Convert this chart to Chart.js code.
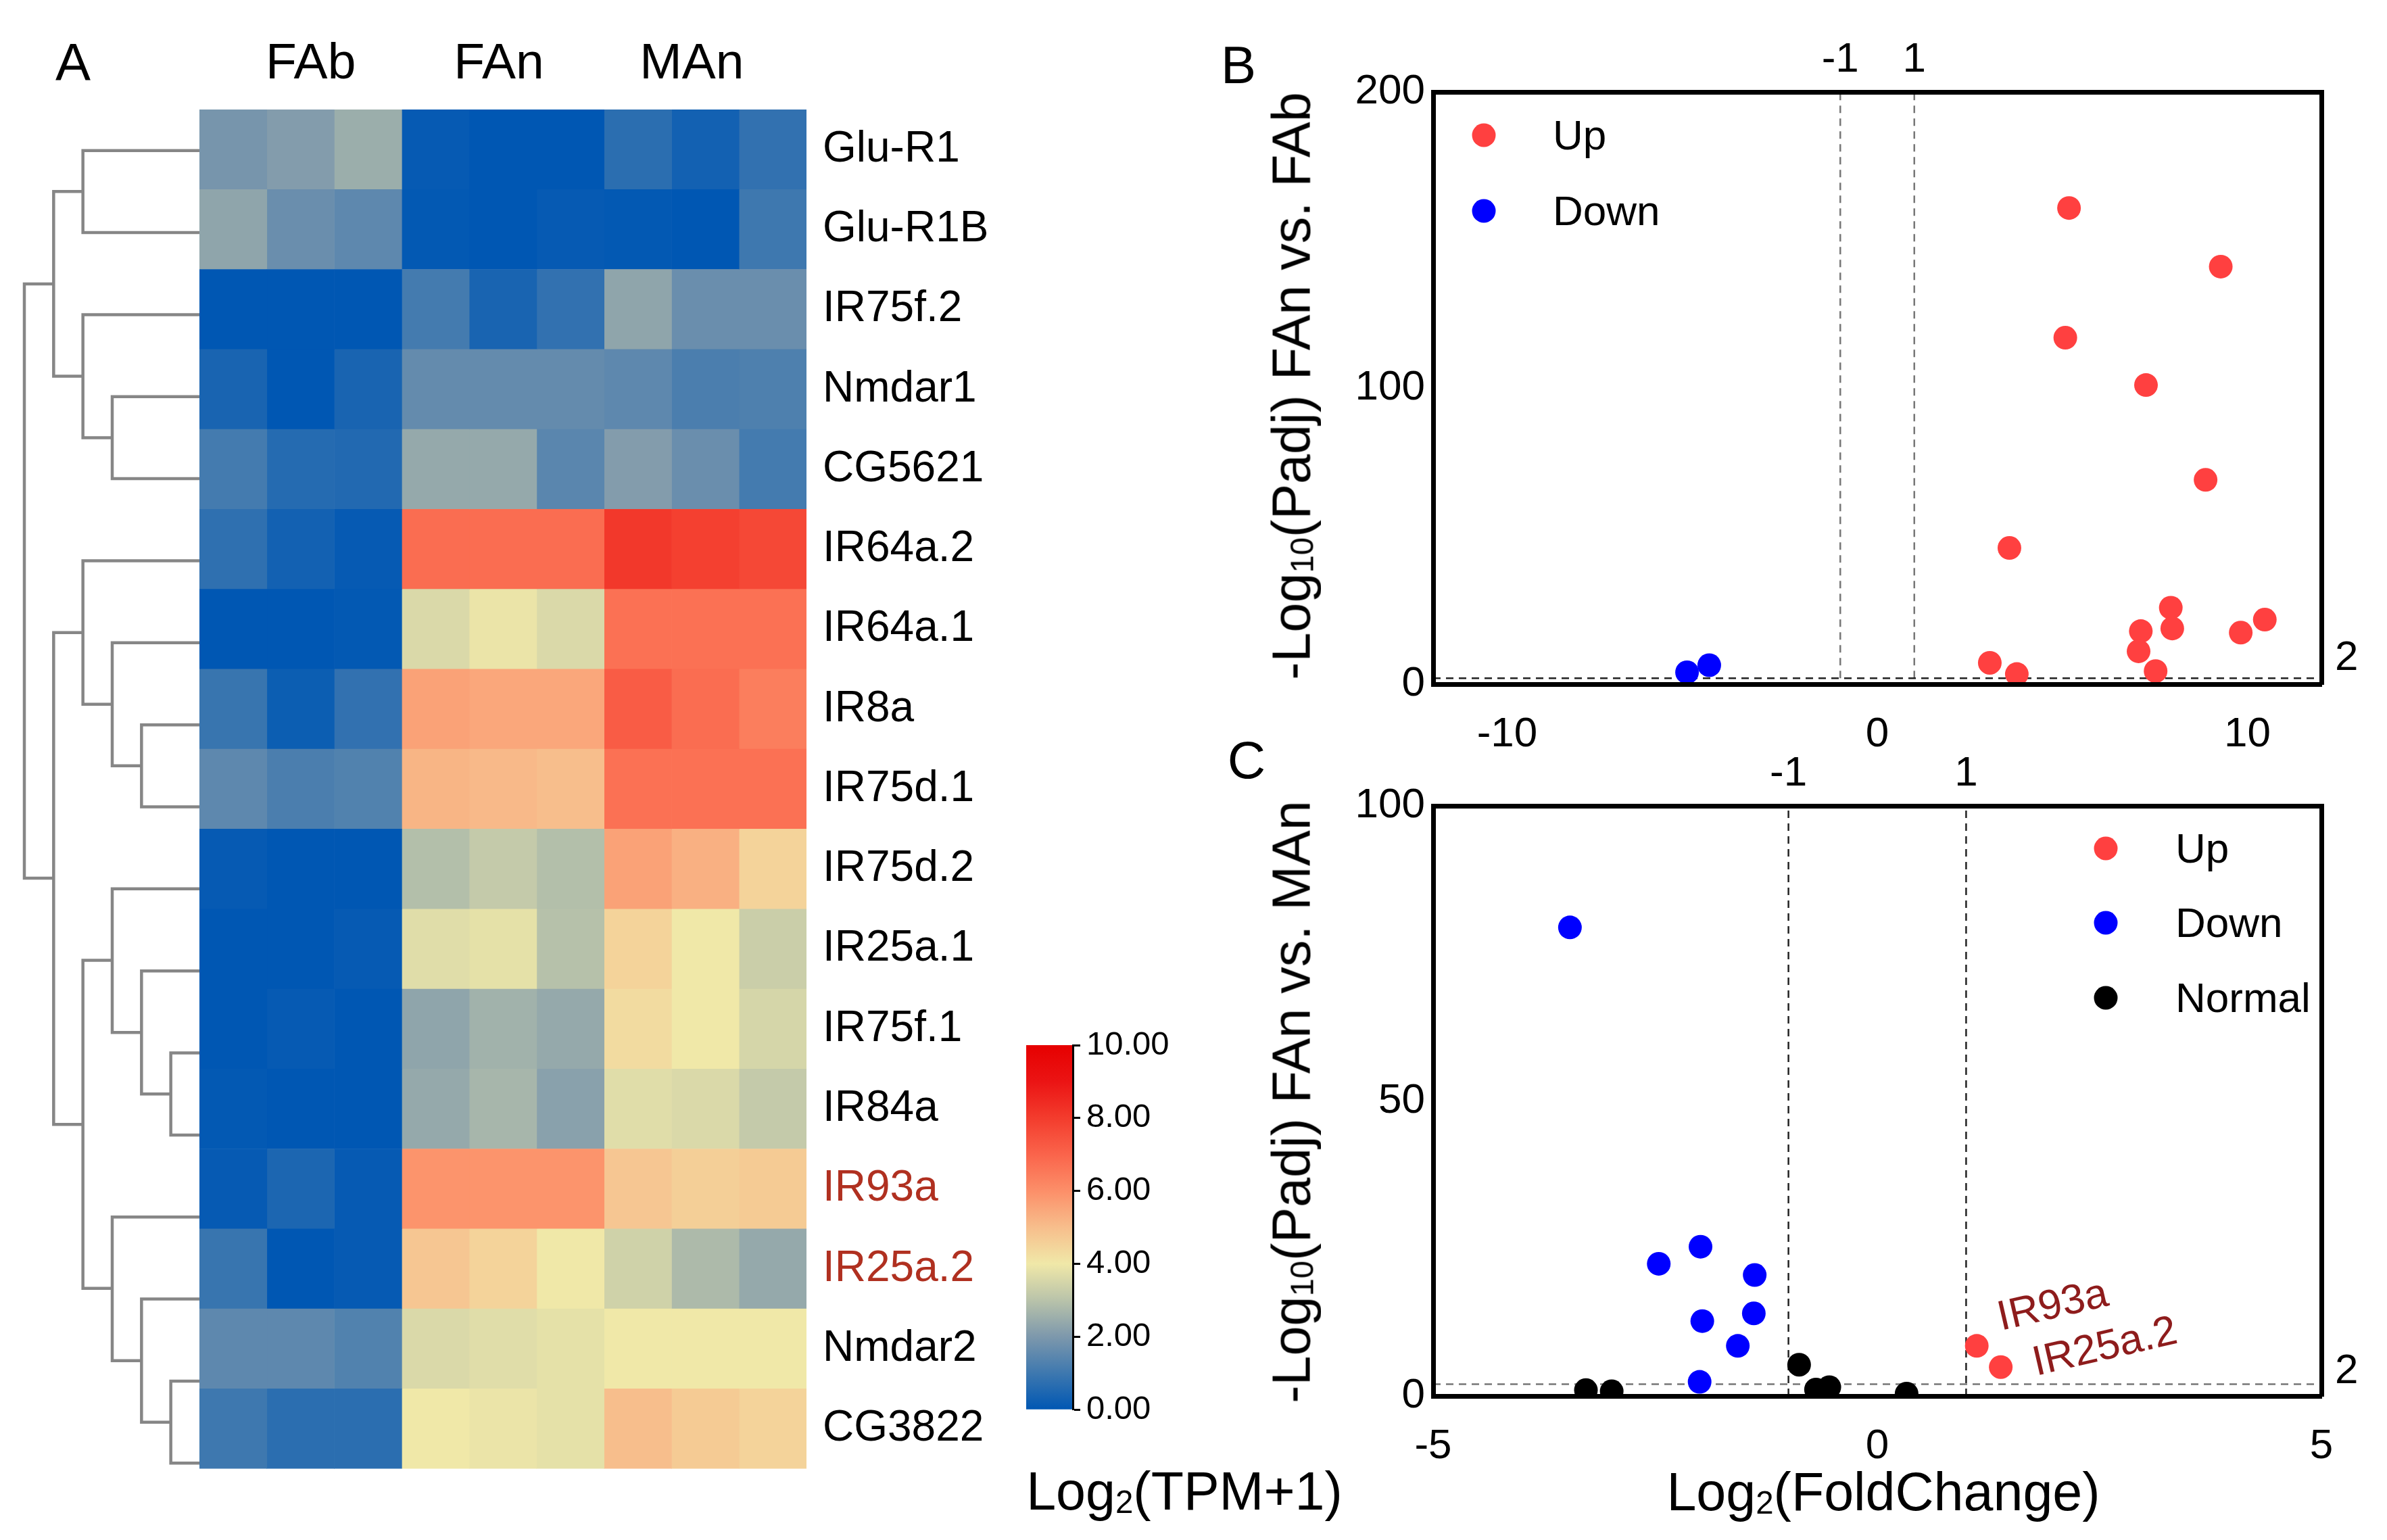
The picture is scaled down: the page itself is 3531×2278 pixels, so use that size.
<!DOCTYPE html>
<html>
<head>
<meta charset="utf-8">
<title>Chart</title>
<script src="https://cdn.jsdelivr.net/npm/chart.js@4"></script>
<style>
  html, body { margin: 0; background: #fff; }
  #page { position: relative; width: 3531px; height: 2278px; overflow: hidden; font-family: "Liberation Sans", Arial, sans-serif; color: #000; }
  canvas { position: absolute; }
  .t { position: absolute; white-space: nowrap; line-height: 1; transform: translate(-50%, -50%); }
  .rot { transform: translate(-50%, -50%) rotate(-90deg); }
  .tilt { transform: translate(-50%, -50%) rotate(-13deg); color: #8e1c1c; font-size: 62px; }
  .leg { transform: translate(0, -50%); font-size: 62px; }
  .dot { position: absolute; width: 35px; height: 35px; border-radius: 50%; transform: translate(-50%, -50%); }
  sub { font-size: .6em; vertical-align: baseline; position: relative; top: .1em; line-height: 0; }
</style>
</head>
<body>
<div id="page">
  <canvas id="dendro" width="312" height="2063" style="left:20px;top:162px"></canvas>
  <canvas id="heat" width="1218" height="2175" style="left:295px;top:60px"></canvas>
  <canvas id="cbar" width="320" height="640" style="left:1518px;top:1500px"></canvas>
  <canvas id="volcB" width="1631" height="1132" style="left:1900px;top:0px"></canvas>
  <canvas id="volcC" width="1631" height="1132" style="left:1900px;top:1056px"></canvas>

  <div class="t" style="left:108px;top:92px;font-size:78px">A</div>
  <div class="t" style="left:1832px;top:96px;font-size:78px">B</div>
  <div class="t" style="left:1844px;top:1124px;font-size:78px">C</div>

  <div class="t rot" style="left:1910px;top:571px;font-size:79px">-Log<sub>10</sub>(Padj) FAn vs. FAb</div>
  <div class="t rot" style="left:1910px;top:1630px;font-size:79px">-Log<sub>10</sub>(Padj) FAn vs. MAn</div>
  <div class="t" style="left:2786px;top:2206px;font-size:79px">Log<sub>2</sub>(FoldChange)</div>
  <div class="t" style="left:1752px;top:2205px;font-size:79px">Log<sub>2</sub>(TPM+1)</div>

  <div class="dot" style="left:2195px;top:200px;background:#ff4040"></div>
  <div class="t leg" style="left:2297px;top:200px">Up</div>
  <div class="dot" style="left:2195px;top:312px;background:#0000ff"></div>
  <div class="t leg" style="left:2297px;top:312px">Down</div>

  <div class="dot" style="left:3115px;top:1255px;background:#ff4040"></div>
  <div class="t leg" style="left:3218px;top:1255px">Up</div>
  <div class="dot" style="left:3115px;top:1365px;background:#0000ff"></div>
  <div class="t leg" style="left:3218px;top:1365px">Down</div>
  <div class="dot" style="left:3115px;top:1476px;background:#000"></div>
  <div class="t leg" style="left:3218px;top:1476px">Normal</div>

  <div class="t tilt" style="left:3036px;top:1929px">IR93a</div>
  <div class="t tilt" style="left:3113px;top:1990px">IR25a.2</div>
</div>

<script>
// heatmap
const genes = ['Glu-R1', 'Glu-R1B', 'IR75f.2', 'Nmdar1', 'CG5621', 'IR64a.2', 'IR64a.1', 'IR8a', 'IR75d.1',
  'IR75d.2', 'IR25a.1', 'IR75f.1', 'IR84a', 'IR93a', 'IR25a.2', 'Nmdar2', 'CG3822'];
const redGenes = ['IR93a', 'IR25a.2'];
const groups = ['FAb', 'FAn', 'MAn'];
const groupTicks = [1.65, 4.44, 7.30];
const heatValues = [
  [1.9, 2.1, 2.5, 0.1, 0, 0, 0.7, 0.3, 0.8],
  [2.3, 1.7, 1.5, 0.05, 0, 0.1, 0.05, 0, 1.0],
  [0, 0, 0, 1.1, 0.4, 0.8, 2.3, 1.7, 1.7],
  [0.4, 0, 0.4, 1.6, 1.6, 1.6, 1.5, 1.2, 1.25],
  [1.1, 0.6, 0.55, 2.4, 2.4, 1.45, 2.1, 1.7, 1.1],
  [0.75, 0.3, 0.1, 6.8, 6.8, 6.8, 8.1, 7.9, 7.7],
  [0, 0, 0.05, 3.6, 3.9, 3.6, 6.7, 6.7, 6.7],
  [0.9, 0.2, 0.8, 5.6, 5.5, 5.5, 7.2, 6.8, 6.4],
  [1.5, 1.2, 1.3, 5.2, 5.1, 5.0, 6.7, 6.7, 6.7],
  [0.1, 0, 0, 2.9, 3.2, 2.9, 5.6, 5.3, 4.5],
  [0, 0, 0.1, 3.7, 3.8, 2.95, 4.5, 4.0, 3.3],
  [0, 0.1, 0, 2.3, 2.6, 2.4, 4.3, 4.0, 3.5],
  [0.05, 0, 0, 2.4, 2.7, 2.2, 3.7, 3.6, 3.2],
  [0.1, 0.45, 0.1, 5.9, 5.9, 5.9, 4.8, 4.6, 4.7],
  [0.9, 0, 0.1, 4.8, 4.5, 4.0, 3.4, 2.8, 2.4],
  [1.5, 1.5, 1.3, 3.6, 3.7, 3.8, 4.0, 4.0, 4.0],
  [1.0, 0.7, 0.7, 4.0, 3.9, 3.8, 5.0, 4.7, 4.5]
];

// colour bar
const cbarTicks = [0, 2, 4, 6, 8, 10];
const cmapColors = [[0, 87, 179], [62, 120, 175], [125, 152, 172], [185, 195, 170], [240, 232, 168],
  [247, 190, 140], [252, 143, 105], [250, 100, 75], [243, 60, 45], [235, 20, 20], [230, 0, 0]];

// dendrogram brackets: depth of child A, row of child A, depth of child B, row of child B, depth of the join
const dendroBrackets = [
  [6, 0, 6, 1, 2],
  [6, 3, 6, 4, 3],
  [6, 2, 3, 3.5, 2],
  [2, 0.5, 2, 2.75, 1],
  [6, 7, 6, 8, 4],
  [6, 6, 4, 7.5, 3],
  [6, 5, 3, 6.75, 2],
  [6, 11, 6, 12, 5],
  [6, 10, 5, 11.5, 4],
  [6, 9, 4, 10.75, 3],
  [6, 15, 6, 16, 5],
  [6, 14, 5, 15.5, 4],
  [6, 13, 4, 14.75, 3],
  [3, 9.87, 3, 13.87, 2],
  [2, 5.875, 2, 11.87, 1],
  [1, 1.625, 1, 8.87, 0]
];

// panel B
const bUpX = [5.18, 9.28, 5.08, 7.26, 8.87, 3.57, 7.93, 10.47, 9.82, 7.97, 7.12, 7.06, 3.04, 3.77, 7.52];
const bUpY = [160.8, 141, 117, 101, 69, 46, 25.8, 21.8, 17.4, 18.8, 17.9, 11.1, 7.2, 3.4, 4.4];
const bDownX = [-5.14, -4.54];
const bDownY = [4, 6.4];

// panel C
const cUpX = [1.12, 1.39];
const cUpY = [8.5, 4.9];
const cDownX = [-3.46, -1.99, -2.46, -1.38, -1.39, -1.97, -1.57, -2.0];
const cDownY = [79.4, 25.3, 22.4, 20.5, 14, 12.7, 8.5, 2.4];
const cNormalX = [-0.88, -3.28, -2.99, -0.69, -0.54, 0.33];
const cNormalY = [5.3, 1, 0.8, 1.1, 1.5, 0.4];

const FONT = '"Liberation Sans", Arial, sans-serif';
const RED = '#ff4040', BLUE = '#0000ff';
Chart.defaults.font.family = FONT;
Chart.defaults.color = '#000';
Chart.defaults.animation = false;
Chart.defaults.responsive = false;
Chart.defaults.devicePixelRatio = 1;
Chart.defaults.plugins.legend.display = false;
Chart.defaults.plugins.tooltip.enabled = false;

function cmap(v) {
  const i = Math.min(Math.floor(v), 9), f = v - i;
  const c = cmapColors[i].map((a, k) => Math.round(a + (cmapColors[i + 1][k] - a) * f));
  return `rgb(${c[0]},${c[1]},${c[2]})`;
}
const zip = (xs, ys) => xs.map((x, i) => ({ x: x, y: ys[i] }));

new Chart(document.getElementById('dendro'), {
  type: 'scatter',
  data: {
    datasets: dendroBrackets.map(b => ({
      data: [{ x: b[0], y: b[1] }, { x: b[4], y: b[1] }, { x: b[4], y: b[3] }, { x: b[2], y: b[3] }],
      showLine: true, pointRadius: 0, borderColor: '#868686', borderWidth: 4.5, clip: false
    }))
  },
  options: {
    layout: { padding: { left: 16, right: 36 } },
    scales: {
      x: { display: false, min: 0, max: 6 },
      y: { display: false, min: -0.5, max: 16.5, reverse: true }
    }
  }
});

new Chart(document.getElementById('heat'), {
  type: 'bar',
  data: {
    labels: genes,
    datasets: heatValues[0].map((_, c) => ({
      data: genes.map(() => 1),
      backgroundColor: genes.map((_, r) => cmap(heatValues[r][c])),
      barPercentage: 1, categoryPercentage: 1
    }))
  },
  options: {
    indexAxis: 'y',
    layout: { padding: { bottom: 10 } },
    scales: {
      x: {
        position: 'top', stacked: true, min: 0, max: 9,
        grid: { display: false, drawTicks: false }, border: { display: false },
        afterBuildTicks: s => { s.ticks = groupTicks.map(v => ({ value: v })); },
        afterFit: s => { s.height = 102; },
        ticks: {
          font: { size: 75 }, padding: 22, maxRotation: 0, autoSkip: false,
          callback: (v, i) => groups[i]
        }
      },
      y: {
        position: 'right', stacked: true,
        grid: { display: false, drawTicks: false }, border: { display: false },
        afterFit: s => { s.width = 320; },
        ticks: {
          font: { size: 64 }, padding: 24, autoSkip: false,
          color: c => redGenes.includes(genes[c.index]) ? '#b03020' : '#000'
        }
      }
    }
  }
});

new Chart(document.getElementById('cbar'), {
  type: 'bar',
  data: {
    labels: [''],
    datasets: [{
      data: [[0, 10]],
      barPercentage: 1, categoryPercentage: 1,
      backgroundColor: c => {
        const a = c.chart.chartArea;
        if (!a) return '#000';
        const g = c.chart.ctx.createLinearGradient(0, a.bottom, 0, a.top);
        cmapColors.forEach((col, i) => g.addColorStop(i / 10, `rgb(${col[0]},${col[1]},${col[2]})`));
        return g;
      }
    }]
  },
  options: {
    layout: { padding: { top: 46, bottom: 55 } },
    scales: {
      x: { display: false },
      y: {
        position: 'right', min: 0, max: 10,
        grid: { display: true, drawOnChartArea: false, tickLength: 11, tickWidth: 3, tickColor: '#000' },
        border: { display: true, width: 3, color: '#000', z: 1 },
        afterBuildTicks: s => { s.ticks = cbarTicks.map(v => ({ value: v })); },
        afterFit: s => { s.width = 251; },
        ticks: { font: { size: 49 }, padding: 9, callback: v => v.toFixed(2) }
      }
    }
  }
});

function frameAxis(position, min, max, size, ticks, padding, extra) {
  return Object.assign({
    position: position, min: min, max: max,
    grid: { display: false, drawTicks: false },
    border: { display: true, width: 7, color: '#000', z: 1 },
    afterBuildTicks: s => { s.ticks = ticks.map(v => ({ value: v })); },
    afterFit: s => {
      if (position === 'top' || position === 'bottom') s.height = size; else s.width = size;
    }
  }, extra, {
    ticks: Object.assign({ font: { size: 62 }, padding: padding, maxRotation: 0, autoSkip: false }, extra && extra.ticks)
  });
}

function volcano(id, datasets, xRange, yMax, xTicks, yTicks, twoOffset, topHeight, bottomHeight) {
  new Chart(document.getElementById(id), {
    type: 'scatter',
    data: { datasets: datasets },
    options: {
      scales: {
        x: frameAxis('bottom', -xRange, xRange, bottomHeight, xTicks, 38),
        x2: frameAxis('top', -xRange, xRange, topHeight, [-1, 1], 10),
        y: frameAxis('left', 0, yMax, 220, yTicks, 12),
        y2: frameAxis('right', 0, yMax, 97, [2], 20, { ticks: { labelOffset: twoOffset } })
      }
    }
  });
}

const pts = (xs, ys, color) => ({
  data: zip(xs, ys), backgroundColor: color, pointRadius: 17.5, pointBorderWidth: 0, xAxisID: 'x', yAxisID: 'y'
});
const dash = (xs, ys, color) => ({
  data: zip(xs, ys), showLine: true, pointRadius: 0, borderColor: color, borderWidth: 2.5, borderDash: [11, 8],
  xAxisID: 'x', yAxisID: 'y'
});

const bLineX = [-12, 12], bLineY = [2, 2], bNegX = [-1, -1], bPosX = [1, 1], bVertY = [2, 200];
volcano('volcB', [
  pts(bUpX, bUpY, RED),
  pts(bDownX, bDownY, BLUE),
  dash(bLineX, bLineY, '#222'),
  dash(bNegX, bVertY, '#777'),
  dash(bPosX, bVertY, '#777')
], 12, 200, [-10, 0, 10], [0, 100, 200], -29, 136, 120);

const cLineX = [-5, 5], cLineY = [2, 2], cNegX = [-1, -1], cPosX = [1, 1], cVertY = [0, 100];
volcano('volcC', [
  pts(cUpX, cUpY, RED),
  pts(cDownX, cDownY, BLUE),
  pts(cNormalX, cNormalY, '#000'),
  dash(cLineX, cLineY, '#777'),
  dash(cNegX, cVertY, '#222'),
  dash(cPosX, cVertY, '#222')
], 5, 100, [-5, 0, 5], [0, 50, 100], -19, 136, 123);
</script>
</body>
</html>
